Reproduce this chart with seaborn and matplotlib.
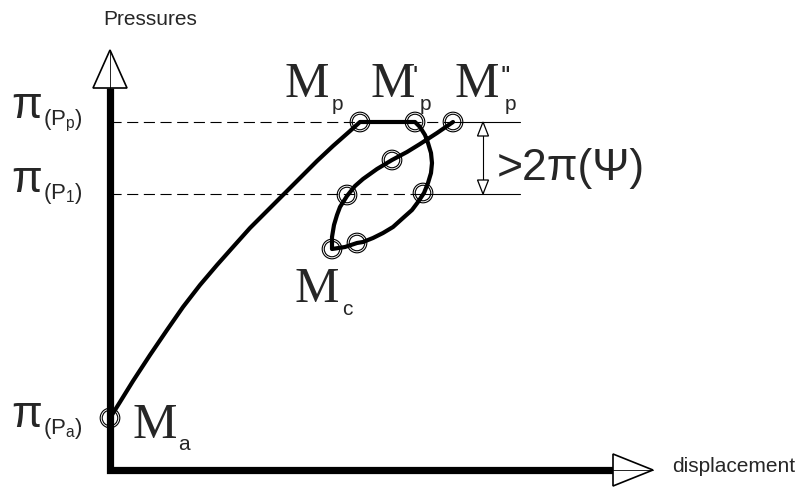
import numpy as np
import pandas as pd
import seaborn as sns
import matplotlib.pyplot as plt
from matplotlib.patches import Polygon

# pressure levels (vertical)
pi_Pa = 52
pi_P1 = 276
pi_Pp = 348

# loading path: Ma -> Mp -> M'p -> loop down to Mc -> back up to M''p
path_disp = [0, 10, 23, 40, 57, 73, 90, 107, 123, 140, 157, 173, 190, 207, 223, 240, 250,
             305, 310, 315, 318, 321, 322, 321, 318, 314, 308, 302, 293, 283, 273, 263, 253, 247, 235, 222,
             222, 224, 227, 230, 237, 245, 253, 267, 282, 297, 310, 327, 343]
path_pres = [52, 68, 89, 115, 140, 163, 185, 205, 223, 242, 259, 275, 292, 309, 324, 339, 348,
             348, 343, 335, 327, 317, 307, 297, 287, 277, 268, 260, 252, 243, 237, 232, 228, 227, 223, 221,
             233, 245, 255, 263, 274, 284, 291, 301, 310, 318, 326, 337, 348]

# marked states (circles)
pts_disp = [0, 250, 305, 343, 282, 237, 313, 222, 247]
pts_pres = [52, 348, 348, 348, 310, 275, 277, 221, 227]

# axis extents
axis_top = 382
axis_right = 503
level_right = 410
dim_x = 373

path = pd.DataFrame({'disp': path_disp, 'pres': path_pres})
pts = pd.DataFrame({'disp': pts_disp, 'pres': pts_pres})

sns.set_style('white')
plt.rcParams['font.family'] = ['Liberation Sans', 'DejaVu Sans']
plt.rcParams['mathtext.fontset'] = 'custom'
plt.rcParams['mathtext.it'] = 'Liberation Sans'
plt.rcParams['mathtext.rm'] = 'Liberation Sans'
plt.rcParams['mathtext.sf'] = 'Liberation Sans'

fig = plt.figure(figsize=(7.98, 4.87), dpi=100)
ax = fig.add_axes([0, 0, 1, 1])
ax.set_xlim(-110, 688)
ax.set_ylim(-17, 470)
ax.axis('off')

# level lines: dashed toward the axis, solid at the dimension side
top = pts_disp[3]
low = pts_disp[6]
sns.lineplot(x=[0, top], y=[pi_Pp, pi_Pp], color='black', linewidth=0.8,
             linestyle=(0, (10, 5)), ax=ax)
sns.lineplot(x=[top, level_right], y=[pi_Pp, pi_Pp], color='black', linewidth=0.8, ax=ax)
sns.lineplot(x=[0, low], y=[pi_P1, pi_P1], color='black', linewidth=0.8,
             linestyle=(0, (10, 5)), ax=ax)
sns.lineplot(x=[low, level_right], y=[pi_P1, pi_P1], color='black', linewidth=0.8, ax=ax)

# axes of the diagram
axes_line = pd.DataFrame({'x': [0, 0, axis_right], 'y': [axis_top, 0, 0]})
sns.lineplot(data=axes_line, x='x', y='y', sort=False, estimator=None,
             color='black', linewidth=5.2, ax=ax)
ax.lines[-1].set_solid_joinstyle('miter')
ax.lines[-1].set_solid_capstyle('butt')

# hollow arrow heads
ax.add_patch(Polygon([(-17, axis_top), (17, axis_top), (0, axis_top + 38)],
                     closed=True, fc='white', ec='black', lw=1.2, zorder=3))
ax.plot([0, 0], [axis_top, axis_top + 38], color='black', lw=0.6, zorder=4)
ax.add_patch(Polygon([(axis_right, 16), (axis_right, -16), (axis_right + 40, 0)],
                     closed=True, fc='white', ec='black', lw=1.2, zorder=3))
ax.plot([axis_right, axis_right + 40], [0, 0], color='black', lw=0.6, zorder=4)

# dimension arrow between the two levels
ax.plot([dim_x, dim_x], [pi_P1, pi_Pp], color='black', lw=0.8)
ax.add_patch(Polygon([(dim_x, pi_Pp), (dim_x - 5.5, pi_Pp - 14), (dim_x + 5.5, pi_Pp - 14)],
                     closed=True, fc='white', ec='black', lw=0.9, zorder=3))
ax.add_patch(Polygon([(dim_x, pi_P1), (dim_x - 5.5, pi_P1 + 14), (dim_x + 5.5, pi_P1 + 14)],
                     closed=True, fc='white', ec='black', lw=0.9, zorder=3))

# the path
sns.lineplot(data=path, x='disp', y='pres', sort=False, estimator=None,
             color='black', linewidth=3, ax=ax)
ax.lines[-1].set_solid_joinstyle('round')

# double-ring markers
sns.scatterplot(data=pts, x='disp', y='pres', marker='o', s=200,
                facecolor='none', edgecolor='black', linewidth=0.8, zorder=5, ax=ax)
sns.scatterplot(data=pts, x='disp', y='pres', marker='o', s=125,
                facecolor='none', edgecolor='black', linewidth=0.8, zorder=5, ax=ax)

# axis titles
ax.text(-7, 445, 'Pressures', fontsize=15, ha='left', va='baseline')
ax.text(562, -2, 'displacement', fontsize=15, ha='left', va='baseline')

# pressure labels on the left
for base, sub in [(352, 'p'), (278, '1'), (43, 'a')]:
    ax.text(-99, base, 'π', fontsize=32, ha='left', va='baseline')
    ax.text(-67, base - 7, r'$(P_%s)$' % sub, fontsize=16, ha='left', va='baseline')

# state labels
serif = 'Liberation Serif'
ax.text(175, 373, 'M', family=serif, fontsize=36, ha='left', va='baseline')
ax.text(222, 360, 'p', fontsize=15, ha='left', va='baseline')
ax.text(260, 373, 'M', family=serif, fontsize=36, ha='left', va='baseline')
ax.text(303, 405, "'", fontsize=20, ha='left', va='top')
ax.text(310, 360, 'p', fontsize=15, ha='left', va='baseline')
ax.text(345, 373, 'M', family=serif, fontsize=36, ha='left', va='baseline')
ax.text(391, 405, "''", fontsize=20, ha='left', va='top')
ax.text(395, 360, 'p', fontsize=15, ha='left', va='baseline')
ax.text(185, 168, 'M', family=serif, fontsize=36, ha='left', va='baseline')
ax.text(232, 155, 'c', fontsize=15, ha='left', va='baseline')
ax.text(23, 32, 'M', family=serif, fontsize=36, ha='left', va='baseline')
ax.text(68, 20, 'a', fontsize=15, ha='left', va='baseline')

ax.text(387, 290, '>2π(Ψ)', fontsize=32, ha='left', va='baseline')

plt.savefig('out.png', dpi=100)
